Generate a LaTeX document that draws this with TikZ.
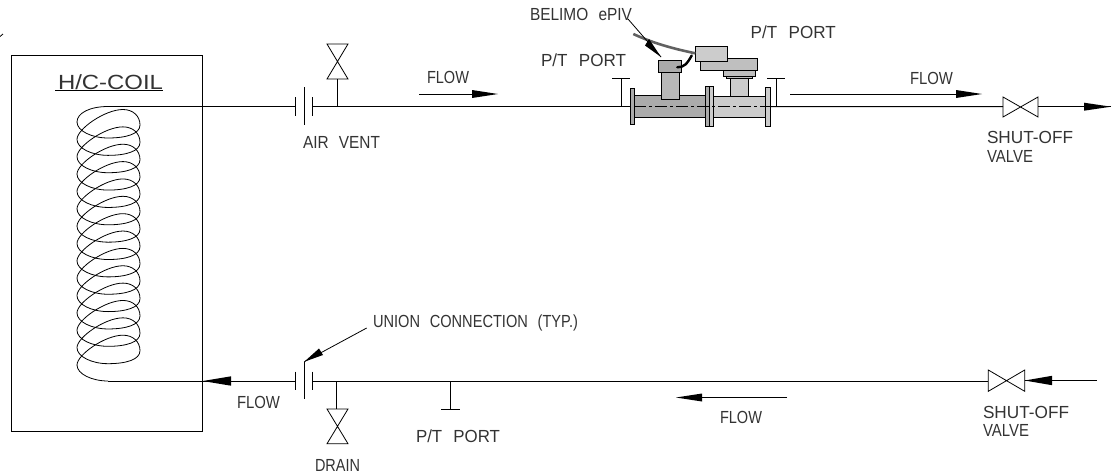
\documentclass[tikz,border=0pt]{standalone}
\usepackage{graphicx}
\usepackage{fontspec}
\setmainfont[WordSpace=2.4]{Liberation Sans}
\tikzset{
  x=1pt,y=-1pt,
  pipe/.style={line width=1pt,black},
  thinline/.style={line width=0.8pt,black},
  lbl/.style={inner sep=0pt,outer sep=0pt,anchor=west,font=\fontsize{17.5}{20}\selectfont,text=black!80},
  part/.style={draw=black,line width=1pt},
}
\newcommand{\flowhead}[4]{\fill (#1,#3) -- (#2,#3-#4) -- (#2,#3+#4) -- cycle;}
\newcommand{\fit}[2]{\resizebox{#1pt}{\height}{#2}}
\begin{document}
\begin{tikzpicture}
\useasboundingbox (0,0) rectangle (1115,474);
% stray mark
\draw[line width=0.8pt] (0,36.5) -- (3,34);
% coil box
\draw[thinline] (11,55) rectangle (202,431);
\node[lbl,font=\fontsize{20.5}{22}\selectfont] (coiltitle) at (58,82) {\fit{105}{H/C-COIL}};
\draw[thinline] (55,90.5) -- (163,90.5);
% coil
\coordinate (coiltop) at (108,106.5);
\coordinate (coilbot) at (108,381);
\draw[line width=0.8pt] (coiltop) .. controls (90,106.5) and (77,113) .. (77,122);
\foreach \k in {0,...,13}{
  \pgfmathsetmacro{\d}{\k*17.36}
  \draw[line width=0.8pt]
    (77,122+\d) .. controls (77,131+\d) and (92,138+\d) .. (108,138+\d)
    .. controls (126,138+\d) and (140,134+\d) .. (140,125+\d)
    .. controls (140,116+\d) and (133,109.5+\d) .. (123,109.5+\d)
    .. controls (105,109.5+\d) and (77,129+\d) .. (77,139.36+\d);
}
\draw[line width=0.8pt] (77,365) .. controls (77,374) and (92,381) .. (coilbot);
% top line
\coordinate (ua1) at (295,106.5); \coordinate (ua2) at (312,106.5);
\coordinate (pivL) at (630,106.5); \coordinate (pivR) at (770,106.5);
\coordinate (ventT) at (337,106.5);
\coordinate (sv1) at (1003,106.7); \coordinate (sv1r) at (1038,106.7);
\coordinate (outTip) at (1111,106.7);
\draw[pipe] (coiltop) -- (ua1);
\draw[pipe] (ua2) -- (pivL);
\draw[pipe] (pivR) -- (sv1);
\draw[pipe] (sv1r) -- (outTip);
\flowhead{1111}{1084}{106.7}{4}
% air-vent union
\draw[thinline] (295,97) -- (295,116);
\draw[thinline] (304,87) -- (304,125);
\draw[thinline] (312,97) -- (312,116);
\node[lbl] (airvent) at (303,142) {\fit{77}{AIR VENT}};
% vent valve
\draw[thinline] (ventT) -- (337,79);
\draw[thinline] (327,44) -- (348,44) -- (327,79) -- (348,79) -- cycle;
% flow 1
\draw[thinline] (419,94) -- (472,94);
\flowhead{498}{472}{94}{4}
\node[lbl] (flow1) at (427,77) {\fit{42}{FLOW}};
% flow 2
\draw[thinline] (790,94) -- (956,94);
\flowhead{982}{956}{94}{4}
\node[lbl] (flow2) at (910,78) {\fit{43}{FLOW}};
% shut-off top
\draw[thinline] (1003,97) -- (1038,117) -- (1038,97) -- (1003,117) -- cycle;
\node[lbl] (so1a) at (987,137) {\fit{86}{SHUT-OFF}};
\node[lbl] (so1b) at (987,156) {\fit{46}{VALVE}};
% ePIV
\draw[part,fill=black!33] (634.7,95.7) rectangle (705.7,117);
\draw[part,fill=black!20] (713.7,96) rectangle (765.3,117.7);
\draw[part,fill=black!33] (630,88) rectangle (634.7,124);
\draw[part,fill=black!33] (705.7,86.7) rectangle (709.5,126);
\draw[part,fill=black!20] (709.5,86.7) rectangle (713.7,126);
\draw[part,fill=black!20] (765.3,87.3) rectangle (770,126);
\draw[part,fill=black!28] (661.3,72.7) rectangle (679,99.3);
\draw[part,fill=black!33] (658.7,60.7) rectangle (681.3,72.7);
\draw[part,fill=black!20] (730.3,78.7) rectangle (748,96);
\draw[part,fill=black!25] (726,76.7) rectangle (752,78.7);
\draw[part,fill=black!25] (723.7,70.7) rectangle (755,76.7);
\draw[part,fill=black!25] (700.7,58.3) rectangle (757,70.7);
\draw[part,fill=black!20] (695.3,46.7) rectangle (727.3,61);
\draw[line width=1.2pt,black,dash pattern=on 12pt off 3pt on 3pt off 3pt] (634,106.5) -- (770,106.5);
\draw[line width=2.6pt,black!62] (633.3,34) .. controls (655,44) and (675,49) .. (695.3,53.3);
\draw[line width=2.4pt,black,line cap=round] (691.7,55.5) .. controls (687,64) and (684,67.3) .. (677.3,67.3);
\node[lbl] (belimo) at (530,14) {\fit{102}{BELIMO ePIV}};
\coordinate (lead1) at (628,19);
\coordinate (lead2) at (661,57);
\draw[thinline] (lead1) -- (lead2);
\fill (lead2) -- (645,45.5) -- (649,39) -- cycle;
% P/T ports top
\coordinate (pt1) at (621.7,106.5);
\coordinate (pt2) at (776,106.5);
\draw[thinline] (pt1) -- (621.7,78.5);
\draw[thinline] (612.3,78.5) -- (629.7,78.5);
\draw[thinline] (pt2) -- (776,78.5);
\draw[thinline] (767.3,78.5) -- (785.3,78.5);
\node[lbl] (ptl1) at (541,60) {\fit{85}{P/T PORT}};
\node[lbl] (ptl2) at (750.7,32) {\fit{85}{P/T PORT}};
% bottom line
\coordinate (ub1) at (295.7,381); \coordinate (ub2) at (312.3,381);
\coordinate (sv2l) at (988.3,381); \coordinate (sv2r) at (1024.7,380.5);
\coordinate (inEnd) at (1096.7,380.5);
\draw[pipe] (coilbot) -- (ub1);
\draw[pipe] (ub2) -- (sv2l);
\draw[pipe] (sv2r) -- (inEnd);
\flowhead{202.7}{231}{381}{4.7}
\flowhead{1024.7}{1052}{380.5}{4.7}
\node[lbl] (flow3) at (237,402) {\fit{43}{FLOW}};
\draw[thinline] (295.7,371.7) -- (295.7,389.5);
\draw[thinline] (304.3,361.7) -- (304.3,399);
\draw[thinline] (312.3,371.7) -- (312.3,389.5);
\node[lbl] (union) at (373,323) {\fit{205}{UNION CONNECTION (TYP.)}};
\coordinate (lead3) at (366.7,328);
\coordinate (lead4) at (304.3,361.7);
\draw[thinline] (lead3) -- (lead4);
\fill (lead4) -- (319,348.5) -- (323,355) -- cycle;
% drain
\coordinate (dr) at (336.7,381);
\draw[thinline] (dr) -- (336.7,409);
\draw[thinline] (327,409) -- (348,409) -- (327,443.7) -- (348,443.7) -- cycle;
\node[lbl] (drain) at (315,465) {\fit{45}{DRAIN}};
% bottom P/T
\coordinate (pt3) at (450.5,381);
\draw[thinline] (pt3) -- (450.5,409);
\draw[thinline] (441,409) -- (460,409);
\node[lbl] (ptl3) at (416,436) {\fit{84}{P/T PORT}};
% bottom flow
\draw[thinline] (787,397.5) -- (702,397.5);
\flowhead{676}{702}{397.5}{4}
\node[lbl] (flow4) at (720,417) {\fit{42}{FLOW}};
% shut-off bottom
\draw[thinline] (988.3,370) -- (1024.7,391.3) -- (1024.7,370) -- (988.3,391.3) -- cycle;
\node[lbl] (so2a) at (983,412) {\fit{86}{SHUT-OFF}};
\node[lbl] (so2b) at (983,430) {\fit{46}{VALVE}};
\end{tikzpicture}
\end{document}
